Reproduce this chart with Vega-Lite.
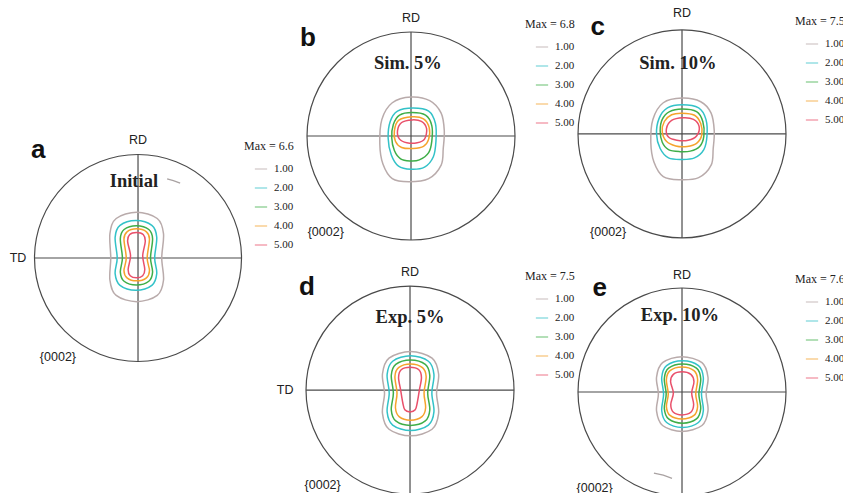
{
"$schema":"https://vega.github.io/schema/vega-lite/v6.json",
"padding":0,
"background":"white",
"spacing":0,
"bounds":"flush",
"resolve":{"scale":{"color":"independent"},"legend":{"color":"independent"}},
"config":{"view":{"stroke":null},
"legend":{"symbolType":"stroke","symbolSize":150,"symbolStrokeWidth":1.3,"symbolOpacity":0.6,"symbolOffset":10,"labelFont":"Liberation Serif","labelFontSize":11,"labelColor":"#222","labelOffset":6,"titleFont":"Liberation Serif","titleFontSize":12,"titleFontWeight":"normal","titleColor":"#222","titlePadding":9,"rowPadding":7,"padding":0}},
"datasets":{
"center":[{"u":0,"v":0}],
"cross":[{"u":-1,"u2":1,"v":0,"v2":0},{"u":0,"u2":0,"v":-1,"v2":1}],
"labels":[
{"p":"a","k":"L","t":"a","u":-0.96,"v":1.04},{"p":"a","k":"A","t":"RD","u":0,"v":1.135},{"p":"a","k":"A","t":"TD","u":-1.154,"v":0},{"p":"a","k":"P","t":"{0002}","u":-0.77,"v":-0.95},{"p":"a","k":"T","t":"Initial","u":-0.04,"v":0.74},
{"p":"b","k":"L","t":"b","u":-0.99,"v":0.94},{"p":"b","k":"A","t":"RD","u":0,"v":1.135},{"p":"b","k":"P","t":"{0002}","u":-0.82,"v":-0.92},{"p":"b","k":"T","t":"Sim. 5%","u":-0.03,"v":0.7},
{"p":"c","k":"L","t":"c","u":-0.81,"v":1.03},{"p":"c","k":"A","t":"RD","u":0,"v":1.163},{"p":"c","k":"P","t":"{0002}","u":-0.71,"v":-0.94},{"p":"c","k":"T","t":"Sim. 10%","u":-0.04,"v":0.68},
{"p":"d","k":"L","t":"d","u":-0.99,"v":0.99},{"p":"d","k":"A","t":"RD","u":0,"v":1.135},{"p":"d","k":"A","t":"TD","u":-1.2,"v":0},{"p":"d","k":"P","t":"{0002}","u":-0.84,"v":-0.91},{"p":"d","k":"T","t":"Exp. 5%","u":0,"v":0.7},
{"p":"e","k":"L","t":"e","u":-0.79,"v":1.0},{"p":"e","k":"A","t":"RD","u":0,"v":1.125},{"p":"e","k":"P","t":"{0002}","u":-0.84,"v":-0.92},{"p":"e","k":"T","t":"Exp. 10%","u":-0.02,"v":0.74}
],
"strays":[
{"p":"a","u":0.28,"v":0.76},{"p":"a","u":0.34,"v":0.745},{"p":"a","u":0.405,"v":0.72},
{"p":"e","u":-0.27,"v":-0.78},{"p":"e","u":-0.18,"v":-0.8},{"p":"e","u":-0.096,"v":-0.83}
],
"contours":[
{"p":"a","l":"1.00","u":-0.013,"v":0.44},{"p":"a","l":"1.00","u":0.185,"v":0.38},{"p":"a","l":"1.00","u":0.245,"v":0.234},{"p":"a","l":"1.00","u":0.228,"v":0},{"p":"a","l":"1.00","u":0.245,"v":-0.214},{"p":"a","l":"1.00","u":0.185,"v":-0.36},{"p":"a","l":"1.00","u":-0.013,"v":-0.42},{"p":"a","l":"1.00","u":-0.21,"v":-0.36},{"p":"a","l":"1.00","u":-0.27,"v":-0.214},{"p":"a","l":"1.00","u":-0.262,"v":0},{"p":"a","l":"1.00","u":-0.27,"v":0.234},{"p":"a","l":"1.00","u":-0.21,"v":0.38},
{"p":"a","l":"2.00","u":-0.02,"v":0.36},{"p":"a","l":"2.00","u":0.133,"v":0.313},{"p":"a","l":"2.00","u":0.18,"v":0.2},{"p":"a","l":"2.00","u":0.16,"v":0},{"p":"a","l":"2.00","u":0.18,"v":-0.15},{"p":"a","l":"2.00","u":0.133,"v":-0.263},{"p":"a","l":"2.00","u":-0.02,"v":-0.31},{"p":"a","l":"2.00","u":-0.173,"v":-0.263},{"p":"a","l":"2.00","u":-0.22,"v":-0.15},{"p":"a","l":"2.00","u":-0.2,"v":0},{"p":"a","l":"2.00","u":-0.22,"v":0.2},{"p":"a","l":"2.00","u":-0.173,"v":0.313},
{"p":"a","l":"3.00","u":-0.015,"v":0.31},{"p":"a","l":"3.00","u":0.104,"v":0.274},{"p":"a","l":"3.00","u":0.14,"v":0.186},{"p":"a","l":"3.00","u":0.12,"v":0},{"p":"a","l":"3.00","u":0.14,"v":-0.136},{"p":"a","l":"3.00","u":0.104,"v":-0.224},{"p":"a","l":"3.00","u":-0.015,"v":-0.26},{"p":"a","l":"3.00","u":-0.134,"v":-0.224},{"p":"a","l":"3.00","u":-0.17,"v":-0.136},{"p":"a","l":"3.00","u":-0.15,"v":0},{"p":"a","l":"3.00","u":-0.17,"v":0.186},{"p":"a","l":"3.00","u":-0.134,"v":0.274},
{"p":"a","l":"4.00","u":-0.013,"v":0.28},{"p":"a","l":"4.00","u":0.081,"v":0.251},{"p":"a","l":"4.00","u":0.11,"v":0.182},{"p":"a","l":"4.00","u":0.088,"v":0},{"p":"a","l":"4.00","u":0.11,"v":-0.122},{"p":"a","l":"4.00","u":0.081,"v":-0.191},{"p":"a","l":"4.00","u":-0.013,"v":-0.22},{"p":"a","l":"4.00","u":-0.106,"v":-0.191},{"p":"a","l":"4.00","u":-0.135,"v":-0.122},{"p":"a","l":"4.00","u":-0.113,"v":0},{"p":"a","l":"4.00","u":-0.135,"v":0.182},{"p":"a","l":"4.00","u":-0.106,"v":0.251},
{"p":"a","l":"5.00","u":-0.015,"v":0.245},{"p":"a","l":"5.00","u":0.05,"v":0.225},{"p":"a","l":"5.00","u":0.07,"v":0.16},{"p":"a","l":"5.00","u":0.045,"v":0.02},{"p":"a","l":"5.00","u":0.065,"v":-0.11},{"p":"a","l":"5.00","u":0.045,"v":-0.17},{"p":"a","l":"5.00","u":-0.015,"v":-0.19},{"p":"a","l":"5.00","u":-0.075,"v":-0.17},{"p":"a","l":"5.00","u":-0.095,"v":-0.11},{"p":"a","l":"5.00","u":-0.072,"v":0.02},{"p":"a","l":"5.00","u":-0.1,"v":0.16},{"p":"a","l":"5.00","u":-0.08,"v":0.225},

{"p":"b","l":"1.00","u":0,"v":0.375},{"p":"b","l":"1.00","u":0.18,"v":0.34},{"p":"b","l":"1.00","u":0.29,"v":0.22},{"p":"b","l":"1.00","u":0.32,"v":0.05},{"p":"b","l":"1.00","u":0.31,"v":-0.12},{"p":"b","l":"1.00","u":0.29,"v":-0.28},{"p":"b","l":"1.00","u":0.17,"v":-0.41},{"p":"b","l":"1.00","u":-0.02,"v":-0.44},{"p":"b","l":"1.00","u":-0.18,"v":-0.41},{"p":"b","l":"1.00","u":-0.27,"v":-0.27},{"p":"b","l":"1.00","u":-0.3,"v":-0.08},{"p":"b","l":"1.00","u":-0.28,"v":0.16},{"p":"b","l":"1.00","u":-0.18,"v":0.32},
{"p":"b","l":"2.00","u":0.02,"v":0.27},{"p":"b","l":"2.00","u":0.17,"v":0.24},{"p":"b","l":"2.00","u":0.235,"v":0.12},{"p":"b","l":"2.00","u":0.24,"v":-0.05},{"p":"b","l":"2.00","u":0.215,"v":-0.2},{"p":"b","l":"2.00","u":0.13,"v":-0.3},{"p":"b","l":"2.00","u":0,"v":-0.32},{"p":"b","l":"2.00","u":-0.12,"v":-0.29},{"p":"b","l":"2.00","u":-0.19,"v":-0.18},{"p":"b","l":"2.00","u":-0.22,"v":-0.02},{"p":"b","l":"2.00","u":-0.2,"v":0.14},{"p":"b","l":"2.00","u":-0.13,"v":0.24},
{"p":"b","l":"3.00","u":0.01,"v":0.225},{"p":"b","l":"3.00","u":0.14,"v":0.2},{"p":"b","l":"3.00","u":0.2,"v":0.1},{"p":"b","l":"3.00","u":0.2,"v":-0.05},{"p":"b","l":"3.00","u":0.17,"v":-0.16},{"p":"b","l":"3.00","u":0.08,"v":-0.23},{"p":"b","l":"3.00","u":-0.01,"v":-0.24},{"p":"b","l":"3.00","u":-0.1,"v":-0.22},{"p":"b","l":"3.00","u":-0.16,"v":-0.14},{"p":"b","l":"3.00","u":-0.185,"v":-0.02},{"p":"b","l":"3.00","u":-0.17,"v":0.11},{"p":"b","l":"3.00","u":-0.11,"v":0.2},
{"p":"b","l":"4.00","u":0.01,"v":0.185},{"p":"b","l":"4.00","u":0.12,"v":0.165},{"p":"b","l":"4.00","u":0.175,"v":0.08},{"p":"b","l":"4.00","u":0.17,"v":-0.03},{"p":"b","l":"4.00","u":0.12,"v":-0.1},{"p":"b","l":"4.00","u":0.02,"v":-0.12},{"p":"b","l":"4.00","u":-0.09,"v":-0.11},{"p":"b","l":"4.00","u":-0.15,"v":-0.05},{"p":"b","l":"4.00","u":-0.16,"v":0.05},{"p":"b","l":"4.00","u":-0.12,"v":0.15},
{"p":"b","l":"5.00","u":0.01,"v":0.155},{"p":"b","l":"5.00","u":0.1,"v":0.14},{"p":"b","l":"5.00","u":0.15,"v":0.07},{"p":"b","l":"5.00","u":0.13,"v":-0.03},{"p":"b","l":"5.00","u":0.06,"v":-0.065},{"p":"b","l":"5.00","u":-0.04,"v":-0.065},{"p":"b","l":"5.00","u":-0.11,"v":-0.03},{"p":"b","l":"5.00","u":-0.13,"v":0.05},{"p":"b","l":"5.00","u":-0.09,"v":0.13},

{"p":"c","l":"1.00","u":0,"v":0.345},{"p":"c","l":"1.00","u":0.18,"v":0.31},{"p":"c","l":"1.00","u":0.28,"v":0.2},{"p":"c","l":"1.00","u":0.31,"v":0.03},{"p":"c","l":"1.00","u":0.3,"v":-0.14},{"p":"c","l":"1.00","u":0.28,"v":-0.3},{"p":"c","l":"1.00","u":0.16,"v":-0.42},{"p":"c","l":"1.00","u":-0.02,"v":-0.44},{"p":"c","l":"1.00","u":-0.18,"v":-0.41},{"p":"c","l":"1.00","u":-0.27,"v":-0.27},{"p":"c","l":"1.00","u":-0.3,"v":-0.08},{"p":"c","l":"1.00","u":-0.28,"v":0.14},{"p":"c","l":"1.00","u":-0.18,"v":0.3},
{"p":"c","l":"2.00","u":0,"v":0.28},{"p":"c","l":"2.00","u":0.16,"v":0.25},{"p":"c","l":"2.00","u":0.23,"v":0.14},{"p":"c","l":"2.00","u":0.24,"v":-0.02},{"p":"c","l":"2.00","u":0.21,"v":-0.15},{"p":"c","l":"2.00","u":0.12,"v":-0.23},{"p":"c","l":"2.00","u":0,"v":-0.245},{"p":"c","l":"2.00","u":-0.13,"v":-0.23},{"p":"c","l":"2.00","u":-0.21,"v":-0.14},{"p":"c","l":"2.00","u":-0.245,"v":0},{"p":"c","l":"2.00","u":-0.22,"v":0.15},{"p":"c","l":"2.00","u":-0.14,"v":0.25},
{"p":"c","l":"3.00","u":0,"v":0.24},{"p":"c","l":"3.00","u":0.14,"v":0.215},{"p":"c","l":"3.00","u":0.2,"v":0.12},{"p":"c","l":"3.00","u":0.21,"v":-0.02},{"p":"c","l":"3.00","u":0.17,"v":-0.12},{"p":"c","l":"3.00","u":0.08,"v":-0.165},{"p":"c","l":"3.00","u":-0.02,"v":-0.17},{"p":"c","l":"3.00","u":-0.13,"v":-0.15},{"p":"c","l":"3.00","u":-0.19,"v":-0.08},{"p":"c","l":"3.00","u":-0.21,"v":0.03},{"p":"c","l":"3.00","u":-0.19,"v":0.14},{"p":"c","l":"3.00","u":-0.12,"v":0.215},
{"p":"c","l":"4.00","u":0,"v":0.2},{"p":"c","l":"4.00","u":0.12,"v":0.18},{"p":"c","l":"4.00","u":0.18,"v":0.1},{"p":"c","l":"4.00","u":0.19,"v":-0.01},{"p":"c","l":"4.00","u":0.14,"v":-0.09},{"p":"c","l":"4.00","u":0.05,"v":-0.12},{"p":"c","l":"4.00","u":-0.06,"v":-0.115},{"p":"c","l":"4.00","u":-0.15,"v":-0.07},{"p":"c","l":"4.00","u":-0.19,"v":0.02},{"p":"c","l":"4.00","u":-0.17,"v":0.12},{"p":"c","l":"4.00","u":-0.1,"v":0.185},
{"p":"c","l":"5.00","u":0.01,"v":0.155},{"p":"c","l":"5.00","u":0.11,"v":0.14},{"p":"c","l":"5.00","u":0.165,"v":0.07},{"p":"c","l":"5.00","u":0.14,"v":-0.02},{"p":"c","l":"5.00","u":0.06,"v":-0.06},{"p":"c","l":"5.00","u":-0.05,"v":-0.06},{"p":"c","l":"5.00","u":-0.13,"v":-0.03},{"p":"c","l":"5.00","u":-0.15,"v":0.05},{"p":"c","l":"5.00","u":-0.1,"v":0.13},

{"p":"d","l":"1.00","u":0.005,"v":0.37},{"p":"d","l":"1.00","u":0.212,"v":0.307},{"p":"d","l":"1.00","u":0.275,"v":0.154},{"p":"d","l":"1.00","u":0.255,"v":-0.03},{"p":"d","l":"1.00","u":0.275,"v":-0.224},{"p":"d","l":"1.00","u":0.212,"v":-0.377},{"p":"d","l":"1.00","u":0.005,"v":-0.44},{"p":"d","l":"1.00","u":-0.202,"v":-0.377},{"p":"d","l":"1.00","u":-0.265,"v":-0.224},{"p":"d","l":"1.00","u":-0.245,"v":-0.03},{"p":"d","l":"1.00","u":-0.265,"v":0.154},{"p":"d","l":"1.00","u":-0.202,"v":0.307},
{"p":"d","l":"2.00","u":0.005,"v":0.33},{"p":"d","l":"2.00","u":0.177,"v":0.277},{"p":"d","l":"2.00","u":0.23,"v":0.15},{"p":"d","l":"2.00","u":0.21,"v":-0.03},{"p":"d","l":"2.00","u":0.23,"v":-0.21},{"p":"d","l":"2.00","u":0.177,"v":-0.337},{"p":"d","l":"2.00","u":0.005,"v":-0.39},{"p":"d","l":"2.00","u":-0.167,"v":-0.337},{"p":"d","l":"2.00","u":-0.22,"v":-0.21},{"p":"d","l":"2.00","u":-0.2,"v":-0.03},{"p":"d","l":"2.00","u":-0.22,"v":0.15},{"p":"d","l":"2.00","u":-0.167,"v":0.277},
{"p":"d","l":"3.00","u":0.005,"v":0.29},{"p":"d","l":"3.00","u":0.147,"v":0.247},{"p":"d","l":"3.00","u":0.19,"v":0.142},{"p":"d","l":"3.00","u":0.17,"v":-0.03},{"p":"d","l":"3.00","u":0.19,"v":-0.192},{"p":"d","l":"3.00","u":0.147,"v":-0.297},{"p":"d","l":"3.00","u":0.005,"v":-0.34},{"p":"d","l":"3.00","u":-0.137,"v":-0.297},{"p":"d","l":"3.00","u":-0.18,"v":-0.192},{"p":"d","l":"3.00","u":-0.16,"v":-0.03},{"p":"d","l":"3.00","u":-0.18,"v":0.142},{"p":"d","l":"3.00","u":-0.137,"v":0.247},
{"p":"d","l":"4.00","u":0.005,"v":0.25},{"p":"d","l":"4.00","u":0.12,"v":0.215},{"p":"d","l":"4.00","u":0.155,"v":0.13},{"p":"d","l":"4.00","u":0.135,"v":-0.03},{"p":"d","l":"4.00","u":0.15,"v":-0.17},{"p":"d","l":"4.00","u":0.115,"v":-0.255},{"p":"d","l":"4.00","u":0.005,"v":-0.29},{"p":"d","l":"4.00","u":-0.105,"v":-0.255},{"p":"d","l":"4.00","u":-0.14,"v":-0.17},{"p":"d","l":"4.00","u":-0.125,"v":-0.03},{"p":"d","l":"4.00","u":-0.145,"v":0.13},{"p":"d","l":"4.00","u":-0.11,"v":0.215},
{"p":"d","l":"5.00","u":0,"v":0.22},{"p":"d","l":"5.00","u":0.085,"v":0.195},{"p":"d","l":"5.00","u":0.11,"v":0.12},{"p":"d","l":"5.00","u":0.09,"v":0},{"p":"d","l":"5.00","u":0.07,"v":-0.12},{"p":"d","l":"5.00","u":0.05,"v":-0.19},{"p":"d","l":"5.00","u":0,"v":-0.21},{"p":"d","l":"5.00","u":-0.05,"v":-0.19},{"p":"d","l":"5.00","u":-0.07,"v":-0.12},{"p":"d","l":"5.00","u":-0.09,"v":0},{"p":"d","l":"5.00","u":-0.11,"v":0.12},{"p":"d","l":"5.00","u":-0.085,"v":0.195},

{"p":"e","l":"1.00","u":0,"v":0.34},{"p":"e","l":"1.00","u":0.192,"v":0.282},{"p":"e","l":"1.00","u":0.25,"v":0.142},{"p":"e","l":"1.00","u":0.232,"v":-0.02},{"p":"e","l":"1.00","u":0.25,"v":-0.182},{"p":"e","l":"1.00","u":0.192,"v":-0.322},{"p":"e","l":"1.00","u":0,"v":-0.38},{"p":"e","l":"1.00","u":-0.187,"v":-0.322},{"p":"e","l":"1.00","u":-0.245,"v":-0.182},{"p":"e","l":"1.00","u":-0.227,"v":-0.02},{"p":"e","l":"1.00","u":-0.245,"v":0.142},{"p":"e","l":"1.00","u":-0.187,"v":0.282},
{"p":"e","l":"2.00","u":0.005,"v":0.3},{"p":"e","l":"2.00","u":0.158,"v":0.253},{"p":"e","l":"2.00","u":0.205,"v":0.14},{"p":"e","l":"2.00","u":0.187,"v":-0.02},{"p":"e","l":"2.00","u":0.205,"v":-0.18},{"p":"e","l":"2.00","u":0.158,"v":-0.293},{"p":"e","l":"2.00","u":0.005,"v":-0.34},{"p":"e","l":"2.00","u":-0.148,"v":-0.293},{"p":"e","l":"2.00","u":-0.195,"v":-0.18},{"p":"e","l":"2.00","u":-0.177,"v":-0.02},{"p":"e","l":"2.00","u":-0.195,"v":0.14},{"p":"e","l":"2.00","u":-0.148,"v":0.253},
{"p":"e","l":"3.00","u":0.005,"v":0.27},{"p":"e","l":"3.00","u":0.139,"v":0.229},{"p":"e","l":"3.00","u":0.18,"v":0.13},{"p":"e","l":"3.00","u":0.162,"v":-0.02},{"p":"e","l":"3.00","u":0.18,"v":-0.16},{"p":"e","l":"3.00","u":0.139,"v":-0.259},{"p":"e","l":"3.00","u":0.005,"v":-0.3},{"p":"e","l":"3.00","u":-0.129,"v":-0.259},{"p":"e","l":"3.00","u":-0.17,"v":-0.16},{"p":"e","l":"3.00","u":-0.152,"v":-0.02},{"p":"e","l":"3.00","u":-0.17,"v":0.13},{"p":"e","l":"3.00","u":-0.129,"v":0.229},
{"p":"e","l":"4.00","u":0,"v":0.24},{"p":"e","l":"4.00","u":0.115,"v":0.205},{"p":"e","l":"4.00","u":0.15,"v":0.12},{"p":"e","l":"4.00","u":0.132,"v":-0.02},{"p":"e","l":"4.00","u":0.15,"v":-0.14},{"p":"e","l":"4.00","u":0.115,"v":-0.225},{"p":"e","l":"4.00","u":0,"v":-0.26},{"p":"e","l":"4.00","u":-0.115,"v":-0.225},{"p":"e","l":"4.00","u":-0.15,"v":-0.14},{"p":"e","l":"4.00","u":-0.132,"v":-0.02},{"p":"e","l":"4.00","u":-0.15,"v":0.12},{"p":"e","l":"4.00","u":-0.115,"v":0.205},
{"p":"e","l":"5.00","u":0,"v":0.195},{"p":"e","l":"5.00","u":0.085,"v":0.17},{"p":"e","l":"5.00","u":0.115,"v":0.1},{"p":"e","l":"5.00","u":0.093,"v":-0.01},{"p":"e","l":"5.00","u":0.112,"v":-0.12},{"p":"e","l":"5.00","u":0.085,"v":-0.195},{"p":"e","l":"5.00","u":0,"v":-0.22},{"p":"e","l":"5.00","u":-0.083,"v":-0.195},{"p":"e","l":"5.00","u":-0.108,"v":-0.12},{"p":"e","l":"5.00","u":-0.083,"v":-0.01},{"p":"e","l":"5.00","u":-0.11,"v":0.1},{"p":"e","l":"5.00","u":-0.083,"v":0.17}
]
},
"hconcat":[
{
"width":270,"height":493,
"encoding":{"x":{"field":"u","type":"quantitative","scale":{"domain":[-1.327,1.269],"nice":false,"zero":false},"axis":null},"y":{"field":"v","type":"quantitative","scale":{"domain":[-2.26,2.481],"nice":false,"zero":false},"axis":null}},
"layer":[
{"data":{"name":"cross"},"mark":{"type":"rule","color":"#4a4a4a","strokeWidth":1.2},"encoding":{"x2":{"field":"u2"},"y2":{"field":"v2"}}},
{"data":{"name":"center"},"mark":{"type":"point","shape":"circle","filled":false,"size":42849,"color":"#4a4a4a","strokeWidth":1.2,"opacity":1}},
{"data":{"name":"contours"},"transform":[{"filter":"datum.p==='a'"}],"mark":{"type":"line","interpolate":"cardinal-closed","strokeWidth":1.5},"encoding":{"color":{"field":"l","type":"nominal","scale":{"domain":["1.00","2.00","3.00","4.00","5.00"],"range":["#b9abab","#33c2c8","#3fae48","#f5a32c","#e9506a"]},"legend":{"title":"Max = 6.6","orient":"none","legendX":244,"legendY":141}},"order":{"value":null}}},
{"data":{"name":"strays"},"transform":[{"filter":"datum.p==='a'"}],"mark":{"type":"line","color":"#a9a2a2","strokeWidth":1.3},"encoding":{"order":{"value":null}}},
{"data":{"name":"labels"},"transform":[{"filter":"datum.p==='a' && datum.k==='L'"}],"mark":{"type":"text","font":"Liberation Sans","fontWeight":"bold","fontSize":26,"color":"#111"},"encoding":{"text":{"field":"t"}}},
{"data":{"name":"labels"},"transform":[{"filter":"datum.p==='a' && datum.k==='A'"}],"mark":{"type":"text","font":"Liberation Sans","fontSize":12.5,"color":"#222"},"encoding":{"text":{"field":"t"}}},
{"data":{"name":"labels"},"transform":[{"filter":"datum.p==='a' && datum.k==='P'"}],"mark":{"type":"text","font":"Liberation Sans","fontSize":12.5,"color":"#222"},"encoding":{"text":{"field":"t"}}},
{"data":{"name":"labels"},"transform":[{"filter":"datum.p==='a' && datum.k==='T'"}],"mark":{"type":"text","font":"Liberation Serif","fontWeight":"bold","fontSize":18.5,"color":"#222"},"encoding":{"text":{"field":"t"}}}
]
},
{
"spacing":0,"bounds":"full",
"resolve":{"scale":{"color":"independent"},"legend":{"color":"independent"}},
"vconcat":[
{
"spacing":0,"bounds":"flush",
"resolve":{"scale":{"color":"independent"},"legend":{"color":"independent"}},
"hconcat":[
{
"width":300,"height":246,
"encoding":{"x":{"field":"u","type":"quantitative","scale":{"domain":[-1.356,1.529],"nice":false,"zero":false},"axis":null},"y":{"field":"v","type":"quantitative","scale":{"domain":[-1.058,1.308],"nice":false,"zero":false},"axis":null}},
"layer":[
{"data":{"name":"cross"},"mark":{"type":"rule","color":"#4a4a4a","strokeWidth":1.2},"encoding":{"x2":{"field":"u2"},"y2":{"field":"v2"}}},
{"data":{"name":"center"},"mark":{"type":"point","shape":"circle","filled":false,"size":43264,"color":"#4a4a4a","strokeWidth":1.2,"opacity":1}},
{"data":{"name":"contours"},"transform":[{"filter":"datum.p==='b'"}],"mark":{"type":"line","interpolate":"cardinal-closed","strokeWidth":1.5},"encoding":{"color":{"field":"l","type":"nominal","scale":{"domain":["1.00","2.00","3.00","4.00","5.00"],"range":["#b9abab","#33c2c8","#3fae48","#f5a32c","#e9506a"]},"legend":{"title":"Max = 6.8","orient":"none","legendX":255,"legendY":19}},"order":{"value":null}}},
{"data":{"name":"labels"},"transform":[{"filter":"datum.p==='b' && datum.k==='L'"}],"mark":{"type":"text","font":"Liberation Sans","fontWeight":"bold","fontSize":26,"color":"#111"},"encoding":{"text":{"field":"t"}}},
{"data":{"name":"labels"},"transform":[{"filter":"datum.p==='b' && datum.k==='A'"}],"mark":{"type":"text","font":"Liberation Sans","fontSize":12.5,"color":"#222"},"encoding":{"text":{"field":"t"}}},
{"data":{"name":"labels"},"transform":[{"filter":"datum.p==='b' && datum.k==='P'"}],"mark":{"type":"text","font":"Liberation Sans","fontSize":12.5,"color":"#222"},"encoding":{"text":{"field":"t"}}},
{"data":{"name":"labels"},"transform":[{"filter":"datum.p==='b' && datum.k==='T'"}],"mark":{"type":"text","font":"Liberation Serif","fontWeight":"bold","fontSize":18.5,"color":"#222"},"encoding":{"text":{"field":"t"}}}
]
},
{
"width":273,"height":246,
"encoding":{"x":{"field":"u","type":"quantitative","scale":{"domain":[-1.077,1.548],"nice":false,"zero":false},"axis":null},"y":{"field":"v","type":"quantitative","scale":{"domain":[-1.077,1.288],"nice":false,"zero":false},"axis":null}},
"layer":[
{"data":{"name":"cross"},"mark":{"type":"rule","color":"#4a4a4a","strokeWidth":1.2},"encoding":{"x2":{"field":"u2"},"y2":{"field":"v2"}}},
{"data":{"name":"center"},"mark":{"type":"point","shape":"circle","filled":false,"size":43264,"color":"#4a4a4a","strokeWidth":1.2,"opacity":1}},
{"data":{"name":"contours"},"transform":[{"filter":"datum.p==='c'"}],"mark":{"type":"line","interpolate":"cardinal-closed","strokeWidth":1.5},"encoding":{"color":{"field":"l","type":"nominal","scale":{"domain":["1.00","2.00","3.00","4.00","5.00"],"range":["#b9abab","#33c2c8","#3fae48","#f5a32c","#e9506a"]},"legend":{"title":"Max = 7.5","orient":"none","legendX":225,"legendY":16}},"order":{"value":null}}},
{"data":{"name":"labels"},"transform":[{"filter":"datum.p==='c' && datum.k==='L'"}],"mark":{"type":"text","font":"Liberation Sans","fontWeight":"bold","fontSize":26,"color":"#111"},"encoding":{"text":{"field":"t"}}},
{"data":{"name":"labels"},"transform":[{"filter":"datum.p==='c' && datum.k==='A'"}],"mark":{"type":"text","font":"Liberation Sans","fontSize":12.5,"color":"#222"},"encoding":{"text":{"field":"t"}}},
{"data":{"name":"labels"},"transform":[{"filter":"datum.p==='c' && datum.k==='P'"}],"mark":{"type":"text","font":"Liberation Sans","fontSize":12.5,"color":"#222"},"encoding":{"text":{"field":"t"}}},
{"data":{"name":"labels"},"transform":[{"filter":"datum.p==='c' && datum.k==='T'"}],"mark":{"type":"text","font":"Liberation Serif","fontWeight":"bold","fontSize":18.5,"color":"#222"},"encoding":{"text":{"field":"t"}}}
]
}
]
},
{
"spacing":0,"bounds":"flush",
"resolve":{"scale":{"color":"independent"},"legend":{"color":"independent"}},
"hconcat":[
{
"width":300,"height":247,
"encoding":{"x":{"field":"u","type":"quantitative","scale":{"domain":[-1.346,1.538],"nice":false,"zero":false},"axis":null},"y":{"field":"v","type":"quantitative","scale":{"domain":[-0.99,1.385],"nice":false,"zero":false},"axis":null}},
"layer":[
{"data":{"name":"cross"},"mark":{"type":"rule","color":"#4a4a4a","strokeWidth":1.2},"encoding":{"x2":{"field":"u2"},"y2":{"field":"v2"}}},
{"data":{"name":"center"},"mark":{"type":"point","shape":"circle","filled":false,"size":43264,"color":"#4a4a4a","strokeWidth":1.2,"opacity":1}},
{"data":{"name":"contours"},"transform":[{"filter":"datum.p==='d'"}],"mark":{"type":"line","interpolate":"cardinal-closed","strokeWidth":1.5},"encoding":{"color":{"field":"l","type":"nominal","scale":{"domain":["1.00","2.00","3.00","4.00","5.00"],"range":["#b9abab","#33c2c8","#3fae48","#f5a32c","#e9506a"]},"legend":{"title":"Max = 7.5","orient":"none","legendX":255,"legendY":25}},"order":{"value":null}}},
{"data":{"name":"labels"},"transform":[{"filter":"datum.p==='d' && datum.k==='L'"}],"mark":{"type":"text","font":"Liberation Sans","fontWeight":"bold","fontSize":26,"color":"#111"},"encoding":{"text":{"field":"t"}}},
{"data":{"name":"labels"},"transform":[{"filter":"datum.p==='d' && datum.k==='A'"}],"mark":{"type":"text","font":"Liberation Sans","fontSize":12.5,"color":"#222"},"encoding":{"text":{"field":"t"}}},
{"data":{"name":"labels"},"transform":[{"filter":"datum.p==='d' && datum.k==='P'"}],"mark":{"type":"text","font":"Liberation Sans","fontSize":12.5,"color":"#222"},"encoding":{"text":{"field":"t"}}},
{"data":{"name":"labels"},"transform":[{"filter":"datum.p==='d' && datum.k==='T'"}],"mark":{"type":"text","font":"Liberation Serif","fontWeight":"bold","fontSize":18.5,"color":"#222"},"encoding":{"text":{"field":"t"}}}
]
},
{
"width":273,"height":247,
"encoding":{"x":{"field":"u","type":"quantitative","scale":{"domain":[-1.077,1.548],"nice":false,"zero":false},"axis":null},"y":{"field":"v","type":"quantitative","scale":{"domain":[-0.971,1.404],"nice":false,"zero":false},"axis":null}},
"layer":[
{"data":{"name":"cross"},"mark":{"type":"rule","color":"#4a4a4a","strokeWidth":1.2},"encoding":{"x2":{"field":"u2"},"y2":{"field":"v2"}}},
{"data":{"name":"center"},"mark":{"type":"point","shape":"circle","filled":false,"size":43264,"color":"#4a4a4a","strokeWidth":1.2,"opacity":1}},
{"data":{"name":"contours"},"transform":[{"filter":"datum.p==='e'"}],"mark":{"type":"line","interpolate":"cardinal-closed","strokeWidth":1.5},"encoding":{"color":{"field":"l","type":"nominal","scale":{"domain":["1.00","2.00","3.00","4.00","5.00"],"range":["#b9abab","#33c2c8","#3fae48","#f5a32c","#e9506a"]},"legend":{"title":"Max = 7.6","orient":"none","legendX":225,"legendY":28}},"order":{"value":null}}},
{"data":{"name":"strays"},"transform":[{"filter":"datum.p==='e'"}],"mark":{"type":"line","color":"#a9a2a2","strokeWidth":1.3},"encoding":{"order":{"value":null}}},
{"data":{"name":"labels"},"transform":[{"filter":"datum.p==='e' && datum.k==='L'"}],"mark":{"type":"text","font":"Liberation Sans","fontWeight":"bold","fontSize":26,"color":"#111"},"encoding":{"text":{"field":"t"}}},
{"data":{"name":"labels"},"transform":[{"filter":"datum.p==='e' && datum.k==='A'"}],"mark":{"type":"text","font":"Liberation Sans","fontSize":12.5,"color":"#222"},"encoding":{"text":{"field":"t"}}},
{"data":{"name":"labels"},"transform":[{"filter":"datum.p==='e' && datum.k==='P'"}],"mark":{"type":"text","font":"Liberation Sans","fontSize":12.5,"color":"#222"},"encoding":{"text":{"field":"t"}}},
{"data":{"name":"labels"},"transform":[{"filter":"datum.p==='e' && datum.k==='T'"}],"mark":{"type":"text","font":"Liberation Serif","fontWeight":"bold","fontSize":18.5,"color":"#222"},"encoding":{"text":{"field":"t"}}}
]
}
]
}
]
}
]
}
